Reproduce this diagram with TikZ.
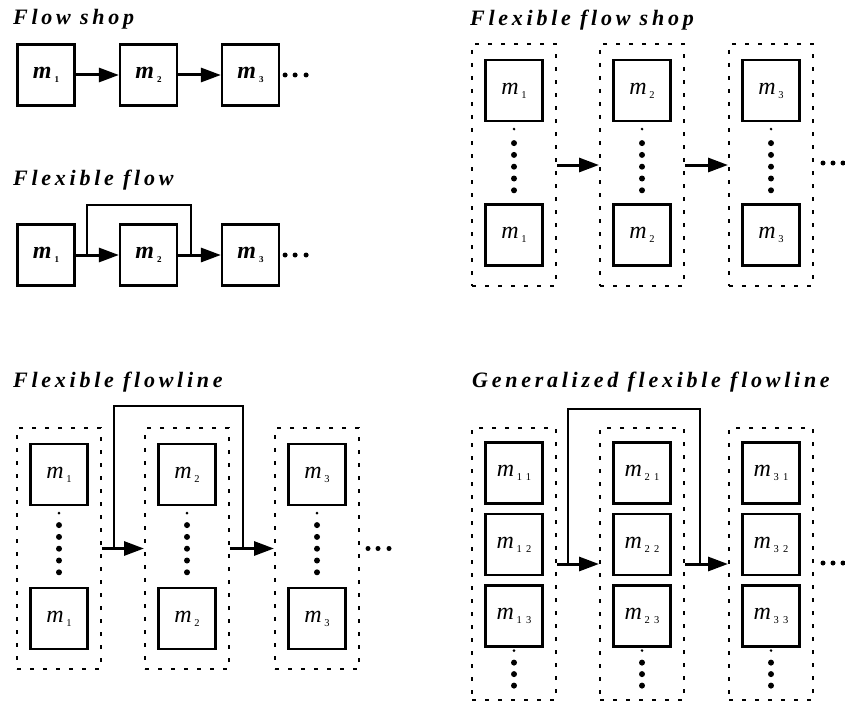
\documentclass[tikz,border=0pt]{standalone}
\usepackage{fontspec}
\setmainfont{Liberation Serif}
\newfontfamily\titlefont[LetterSpace=17]{Liberation Serif}
\newfontfamily\subfont[LetterSpace=40]{Liberation Serif}
\usetikzlibrary{arrows.meta, positioning, calc}

\newcommand{\mlab}[1]{\textit{m}\kern2.5pt\raisebox{-4pt}{\subfont\fontsize{10.5}{10.5}\selectfont #1}}
\newcommand{\mbf}[1]{\textbf{\textit{m}}\kern3pt\raisebox{-4pt}{\subfont\bfseries\fontsize{9}{9}\selectfont #1}}

\begin{document}
\begin{tikzpicture}[
    x=1pt, y=-1pt,
    ttl/.style={anchor=base west, inner sep=0pt, font=\titlefont\fontsize{22}{22}\selectfont\bfseries\itshape},
    mach/.style={draw, line width=2.2pt, minimum width=57pt, minimum height=61pt, inner sep=0pt, font=\fontsize{24}{24}\selectfont},
    grp/.style={draw, line width=2pt, dash pattern=on 4pt off 9pt, minimum width=84pt, inner sep=0pt},
    flow/.style={line width=3pt, -{Triangle[length=20pt, width=14pt]}},
    bypass/.style={line width=2.4pt}
  ]
  \useasboundingbox (0,0) rectangle (845,706);

  % Flow shop
  \node[ttl] (tfs) at (13,25) {Flow shop};
  \node[mach] (fs1) at (46,75) {\mbf{1}};
  \node[mach] (fs2) at (148.5,75) {\mbf{2}};
  \node[mach] (fs3) at (250.5,75) {\mbf{3}};
  \draw[flow] (fs1) -- (fs2);
  \draw[flow] (fs2) -- (fs3);
  \foreach \dx in {5,15,26} \fill ($(fs3.east)+(\dx,0)$) circle (2.5);

  % Flexible flow
  \node[ttl] (tff) at (13,185) {Flexible flow};
  \node[mach] (ff1) at (46,255) {\mbf{1}};
  \node[mach] (ff2) at (148.5,255) {\mbf{2}};
  \node[mach] (ff3) at (250.5,255) {\mbf{3}};
  \draw[flow] (ff1) -- (ff2);
  \draw[flow] (ff2) -- (ff3);
  \coordinate (ffa) at (87,255);
  \coordinate (ffb) at (191,255);
  \draw[bypass] (ffa) -- ++(0,-50) -| (ffb);
  \foreach \dx in {5,15,26} \fill ($(ff3.east)+(\dx,0)$) circle (2.5);

  % Flexible flow shop
  \node[ttl] (tffs) at (470,26) {Flexible flow shop};
  \foreach \i/\x in {1/514, 2/642, 3/771} {
    \node[grp, minimum height=242pt] (fsg\i) at (\x,165) {};
    \node[mach] (fsa\i) at (\x,90.5) {\mlab{\i}};
    \node[mach] (fsb\i) at (\x,235) {\mlab{\i}};
    \fill ($(fsa\i.south)+(0,7)$) circle (1.4);
    \foreach \k in {0,...,4} \fill ($(fsa\i.south)+(0,21+11.8*\k)$) circle (3);
  }
  \draw[flow] (fsg1) -- (fsg2);
  \draw[flow] (fsg2) -- (fsg3);
  \foreach \dx in {9,19,29} \fill ($(fsg3.east)+(\dx,-2)$) circle (2.5);

  % Flexible flowline
  \node[ttl] (tfl) at (13,387) {Flexible flowline};
  \foreach \i/\x in {1/59, 2/187, 3/317} {
    \node[grp, minimum height=241pt] (flg\i) at (\x,548.5) {};
    \node[mach] (fla\i) at (\x,474.5) {\mlab{\i}};
    \node[mach] (flb\i) at (\x,618.5) {\mlab{\i}};
    \fill ($(fla\i.south)+(0,7)$) circle (1.4);
    \foreach \k in {0,...,4} \fill ($(fla\i.south)+(0,19+11.8*\k)$) circle (3);
  }
  \draw[flow] (flg1) -- (flg2);
  \draw[flow] (flg2) -- (flg3);
  \coordinate (fla) at (114,548.5);
  \coordinate (flb) at (243,548.5);
  \draw[bypass] (fla) -- ++(0,-142.5) -| (flb);
  \foreach \dx in {8,18,29} \fill ($(flg3.east)+(\dx,0)$) circle (2.5);

  % Generalized flexible flowline
  \node[ttl] (tgf) at (472,387) {Generalized flexible flowline};
  \foreach \i/\x in {1/514, 2/642, 3/771} {
    \node[grp, minimum height=272pt] (gfg\i) at (\x,564) {};
    \node[mach] (gm\i1) at (\x,473) {\mlab{\i1}};
    \node[mach] (gm\i2) at (\x,544.5) {\mlab{\i2}};
    \node[mach] (gm\i3) at (\x,616) {\mlab{\i3}};
    \fill ($(gm\i3.south)+(0,3)$) circle (1.4);
    \foreach \k in {0,...,2} \fill ($(gm\i3.south)+(0,15+11.5*\k)$) circle (3);
  }
  \draw[flow] (gfg1) -- (gfg2);
  \draw[flow] (gfg2) -- (gfg3);
  \coordinate (gfa) at (568,564);
  \coordinate (gfb) at (700,564);
  \draw[bypass] (gfa) -- ++(0,-155) -| (gfb);
  \foreach \dx in {9,19,29} \fill ($(gfg3.east)+(\dx,-1)$) circle (2.5);
\end{tikzpicture}
\end{document}
